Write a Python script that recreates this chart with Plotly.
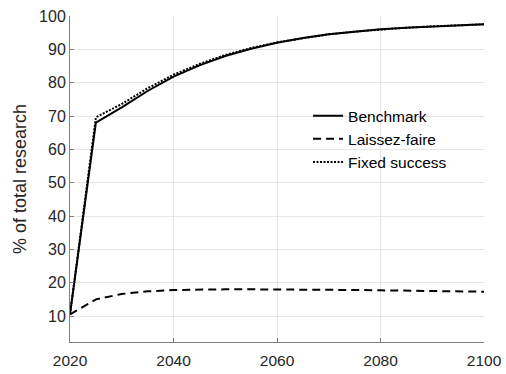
import plotly.graph_objects as go

years = [2020, 2025, 2030, 2035, 2040, 2045, 2050, 2055, 2060, 2065, 2070, 2075, 2080, 2085, 2090, 2095, 2100]
benchmark = [10.5, 68.0, 72.6, 77.5, 81.8, 85.2, 88.0, 90.2, 92.0, 93.4, 94.5, 95.3, 96.0, 96.5, 96.9, 97.2, 97.5]
fixed_success = [10.5, 69.6, 73.6, 78.3, 82.4, 85.6, 88.3, 90.4, 92.1, 93.4, 94.5, 95.3, 96.0, 96.5, 96.9, 97.2, 97.5]
laissez_faire = [10.5, 15.0, 16.6, 17.4, 17.8, 18.0, 18.0, 18.0, 18.0, 18.0, 17.9, 17.8, 17.7, 17.6, 17.5, 17.4, 17.3]

x_ticks = [2020, 2040, 2060, 2080, 2100]
y_ticks = [10, 20, 30, 40, 50, 60, 70, 80, 90, 100]

font = "Liberation Sans, Arial, Helvetica, sans-serif"

fig = go.Figure()
fig.add_trace(go.Scatter(x=years, y=benchmark, mode="lines", name="Benchmark",
                         line=dict(color="black", width=2, dash="solid")))
fig.add_trace(go.Scatter(x=years, y=laissez_faire, mode="lines", name="Laissez-faire",
                         line=dict(color="black", width=2, dash="8px,5px")))
fig.add_trace(go.Scatter(x=years, y=fixed_success, mode="lines", name="Fixed success",
                         line=dict(color="black", width=2, dash="2px,1.5px")))

fig.update_layout(
    template="none",
    width=506, height=374,
    margin=dict(l=70, r=22, t=16, b=32, autoexpand=False),
    paper_bgcolor="white", plot_bgcolor="white",
    font=dict(family=font, size=15.5, color="#262626"),
    showlegend=True,
    legend=dict(x=0.575, y=0.745, xanchor="left", yanchor="top",
                bgcolor="rgba(0,0,0,0)", borderwidth=0,
                font=dict(family=font, size=15.5, color="black"),
                tracegroupgap=0, itemwidth=30),
)
fig.update_xaxes(range=[2020, 2100], tickvals=x_ticks, ticktext=[str(v) for v in x_ticks],
                 automargin=False, ticklabelstandoff=4,
                 showgrid=True, gridcolor="#e6e6e6", gridwidth=1,
                 showline=True, linecolor="#808080", linewidth=1,
                 ticks="inside", ticklen=4, tickcolor="#808080",
                 zeroline=False, tickfont=dict(size=15.5, color="#262626"))
fig.update_yaxes(range=[2.2, 100], tickvals=y_ticks, ticktext=[str(v) for v in y_ticks],
                 automargin=False,
                 showgrid=True, gridcolor="#e6e6e6", gridwidth=1,
                 showline=True, linecolor="#808080", linewidth=1,
                 ticks="inside", ticklen=4, tickcolor="#808080",
                 zeroline=False, tickfont=dict(size=16, color="#262626"),
                 title=dict(text="% of total research", font=dict(size=18, color="#262626"), standoff=7))

fig.write_html("out.html", config={"displayModeBar": False},
               post_script="document.body.style.margin='0';document.body.style.overflow='hidden';")
